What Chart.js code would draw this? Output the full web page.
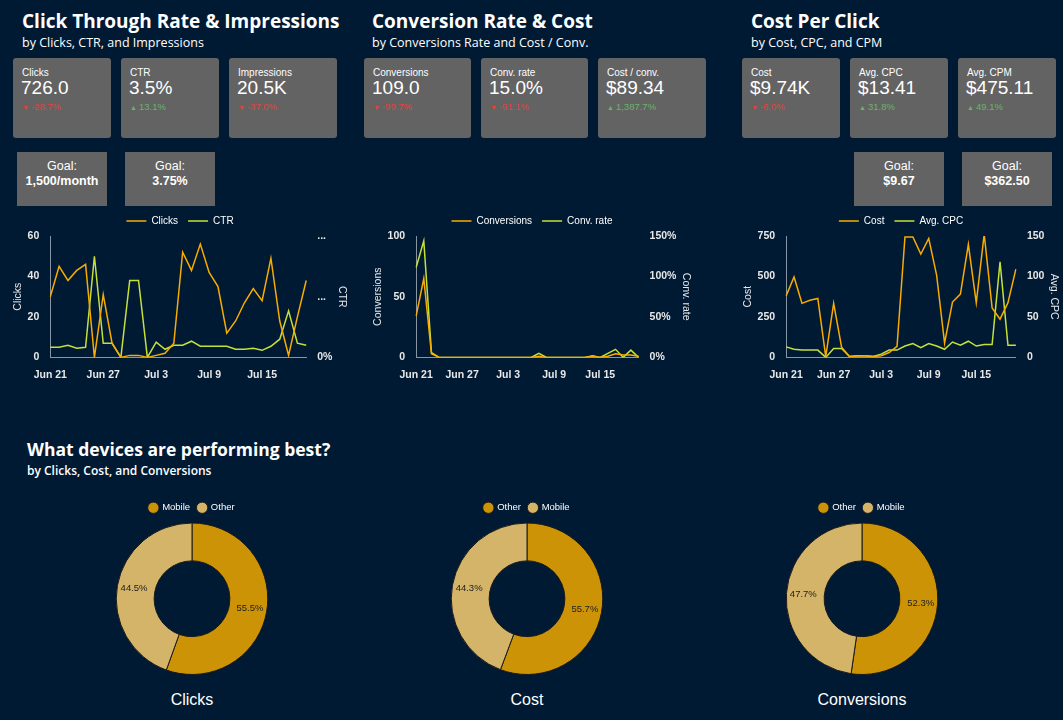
<!doctype html>
<html lang="en">
<head>
<meta charset="UTF-8" />
<title>Ads Dashboard</title>
<script src="https://cdn.jsdelivr.net/npm/chart.js"></script>
<style>
  body { margin: 0; width: 1063px; height: 720px; background: #011a33; font-family: Arial, "Liberation Sans", sans-serif; color: #fff; position: relative; overflow: hidden; }
  h2 { position: absolute; margin: 0; font-family: "Open Sans", sans-serif; font-weight: 700; font-size: 19px; }
  .sub { position: absolute; font-family: "Open Sans", sans-serif; font-size: 12.5px; }
  .card { position: absolute; top: 58px; height: 80px; background: #636363; border-radius: 3px; }
  .card .l { position: absolute; left: 9px; top: 9px; font-size: 10px; }
  .card .v { position: absolute; left: 8px; top: 19px; font-size: 19px; }
  .card .d { position: absolute; left: 9px; top: 43px; font-size: 9.5px; }
  .card .d span { font-size: 7px; margin-right: 2px; }
  .dn { color: #e0443c; } .up { color: #6ab36a; }
  .goal { position: absolute; top: 152px; width: 90px; height: 54px; background: #636363; text-align: center; font-size: 12.5px; line-height: 15px; padding-top: 7px; box-sizing: border-box; }
  .goal b { display: block; }
  .lbl { position: absolute; top: 691px; width: 200px; text-align: center; font-size: 16px; }
  canvas { position: absolute; }
</style>
</head>
<body>
<h2 style="left:22px;top:8px">Click Through Rate &amp; Impressions</h2>
<div class="sub" style="left:22px;top:34px">by Clicks, CTR, and Impressions</div>
<h2 style="left:372px;top:8px">Conversion Rate &amp; Cost</h2>
<div class="sub" style="left:372px;top:34px">by Conversions Rate and Cost / Conv.</div>
<h2 style="left:751px;top:8px">Cost Per Click</h2>
<div class="sub" style="left:751px;top:34px">by Cost, CPC, and CPM</div>

<div class="card" style="left:13px;width:98px"><div class="l">Clicks</div><div class="v">726.0</div><div class="d dn"><span>&#9660;</span>-28.7%</div></div>
<div class="card" style="left:121px;width:98px"><div class="l">CTR</div><div class="v">3.5%</div><div class="d up"><span>&#9650;</span>13.1%</div></div>
<div class="card" style="left:229px;width:108px"><div class="l">Impressions</div><div class="v">20.5K</div><div class="d dn"><span>&#9660;</span>-37.0%</div></div>
<div class="card" style="left:364px;width:107px"><div class="l">Conversions</div><div class="v">109.0</div><div class="d dn"><span>&#9660;</span>-99.7%</div></div>
<div class="card" style="left:481px;width:107px"><div class="l">Conv. rate</div><div class="v">15.0%</div><div class="d dn"><span>&#9660;</span>-91.1%</div></div>
<div class="card" style="left:598px;width:108px"><div class="l">Cost / conv.</div><div class="v">$89.34</div><div class="d up"><span>&#9650;</span>1,387.7%</div></div>
<div class="card" style="left:742px;width:98px"><div class="l">Cost</div><div class="v">$9.74K</div><div class="d dn"><span>&#9660;</span>-6.0%</div></div>
<div class="card" style="left:850px;width:98px"><div class="l">Avg. CPC</div><div class="v">$13.41</div><div class="d up"><span>&#9650;</span>31.8%</div></div>
<div class="card" style="left:958px;width:98px"><div class="l">Avg. CPM</div><div class="v">$475.11</div><div class="d up"><span>&#9650;</span>49.1%</div></div>

<div class="goal" style="left:17px">Goal:<b>1,500/month</b></div>
<div class="goal" style="left:125px">Goal:<b>3.75%</b></div>
<div class="goal" style="left:854px">Goal:<b>$9.67</b></div>
<div class="goal" style="left:962px">Goal:<b>$362.50</b></div>

<canvas id="c1" style="left:12px;top:206px;width:336px;height:178px"></canvas>
<canvas id="c2" style="left:372px;top:206px;width:320px;height:178px"></canvas>
<canvas id="c3" style="left:742px;top:206px;width:318px;height:178px"></canvas>

<h2 style="left:27px;top:437px;font-size:17.5px">What devices are performing best?</h2>
<div class="sub" style="left:27px;top:462px;font-size:12px;font-weight:600">by Clicks, Cost, and Conversions</div>

<canvas id="d1" style="left:92px;top:495px;width:200px;height:180px"></canvas>
<canvas id="d2" style="left:427px;top:495px;width:200px;height:180px"></canvas>
<canvas id="d3" style="left:762px;top:495px;width:200px;height:180px"></canvas>
<div class="lbl" style="left:92px">Clicks</div>
<div class="lbl" style="left:427px">Cost</div>
<div class="lbl" style="left:762px">Conversions</div>

<script>
const dates = ['Jun 21','Jun 22','Jun 23','Jun 24','Jun 25','Jun 26','Jun 27','Jun 28','Jun 29','Jun 30',
  'Jul 1','Jul 2','Jul 3','Jul 4','Jul 5','Jul 6','Jul 7','Jul 8','Jul 9','Jul 10',
  'Jul 11','Jul 12','Jul 13','Jul 14','Jul 15','Jul 16','Jul 17','Jul 18','Jul 19','Jul 20'];
const clicks = [30,45,38,43,46,0,31,7,0,1,1,0,1,2,7,52,43,56,42,35,12,18,27,34,28,49,18,1,20,38];
const ctr = [1,1,1.2,0.9,1,10,1.4,1.4,0,7.6,7.6,0,1.5,0.8,1.2,1.2,1.6,1.1,1.1,1.1,1.1,0.8,0.8,0.9,0.7,1.1,1.8,4.6,1.4,1.2];
const conversions = [34,65,3,0,0,0,0,0,0,0,0,0,0,0,0,0,1,0,0,0,0,0,0,1,0,1,3,2,2,1];
const convRate = [111,144,6,0,0,0,0,0,0,0,0,0,0,0,0,0,5,0,0,0,0,0,0,2,0,5,10,0,9,0];
const cost = [380,497,334,353,364,5,334,63,5,8,10,5,10,30,68,744,744,638,735,507,89,342,391,698,338,761,306,236,338,545];
const cpc = [13,10,9,9,9,0,11,11,1,2,2,1,4,9,9,14,17,12,17,14,10,19,15,20,14,16,16,118,15,15];

const deviceLabels1 = ['Mobile','Other'];
const clickShare = [55.5,44.5];
const deviceLabels2 = ['Other','Mobile'];
const costShare = [55.7,44.3];
const convShare = [52.3,47.7];

const ORANGE = '#f9ab00', LIME = '#c6e03a', TXT = '#e8e8e8';
const DARK = '#cc9306', LIGHT = '#d4b469';
Chart.defaults.font.family = 'Arial, "Liberation Sans", sans-serif';
Chart.defaults.color = TXT;

function lineChart(id, a, b, yL, yR, leftOpt, rightOpt) {
  new Chart(document.getElementById(id), {
    type: 'line',
    data: {
      labels: dates,
      datasets: [
        { label: a.label, data: a.data, borderColor: ORANGE, backgroundColor: ORANGE, yAxisID: 'y' },
        { label: b.label, data: b.data, borderColor: LIME, backgroundColor: LIME, yAxisID: 'y1' }
      ]
    },
    options: {
      responsive: false, animation: false,
      elements: { point: { radius: 0 }, line: { borderWidth: 1.5, tension: 0 } },
      plugins: {
        legend: { labels: { boxWidth: 20, boxHeight: 0, font: { size: 10 }, color: '#fff' } },
        tooltip: { enabled: false }
      },
      scales: {
        x: {
          grid: { display: false }, border: { color: '#8895a5' },
          ticks: { autoSkip: false, maxRotation: 0, font: { size: 10.5, weight: 'bold' },
            callback: (v, i) => i % 6 === 0 ? dates[i] : '' }
        },
        y: Object.assign({ position: 'left', min: 0, grid: { display: false }, border: { color: '#8895a5' },
          title: { display: true, text: yL, font: { size: 10.5 }, padding: 0 } }, leftOpt),
        y1: Object.assign({ position: 'right', min: 0, grid: { display: false }, border: { display: false },
          title: { display: true, text: yR, font: { size: 10.5 }, padding: 0 } }, rightOpt)
      }
    }
  });
}

const tf = { size: 10.5, weight: 'bold' };
lineChart('c1', { label: 'Clicks', data: clicks }, { label: 'CTR', data: ctr }, 'Clicks', 'CTR',
  { max: 60, ticks: { stepSize: 20, font: tf } },
  { max: 12, ticks: { stepSize: 6, font: tf, callback: v => v === 0 ? '0%' : '...' } });
lineChart('c2', { label: 'Conversions', data: conversions }, { label: 'Conv. rate', data: convRate }, 'Conversions', 'Conv. rate',
  { max: 100, ticks: { stepSize: 50, font: tf } },
  { max: 150, ticks: { stepSize: 50, font: tf, callback: v => v + '%' } });
lineChart('c3', { label: 'Cost', data: cost }, { label: 'Avg. CPC', data: cpc }, 'Cost', 'Avg. CPC',
  { max: 750, ticks: { stepSize: 250, font: tf } },
  { max: 150, ticks: { stepSize: 50, font: tf } });

const sliceLabels = {
  id: 'sliceLabels',
  afterDatasetsDraw(chart) {
    const ctx = chart.ctx;
    const meta = chart.getDatasetMeta(0);
    ctx.save();
    ctx.fillStyle = '#222';
    ctx.font = '9.5px Arial';
    ctx.textAlign = 'center';
    ctx.textBaseline = 'middle';
    meta.data.forEach((arc, i) => {
      const p = arc.getProps(['x', 'y', 'startAngle', 'endAngle', 'innerRadius', 'outerRadius']);
      const mid = (p.startAngle + p.endAngle) / 2;
      const r = (p.innerRadius + p.outerRadius) / 2 + 2;
      ctx.fillText(chart.data.datasets[0].data[i].toFixed(1) + '%', p.x + Math.cos(mid) * r, p.y + Math.sin(mid) * r);
    });
    ctx.restore();
  }
};

function donut(id, labels, data) {
  new Chart(document.getElementById(id), {
    type: 'doughnut',
    data: { labels, datasets: [{ data, backgroundColor: [DARK, LIGHT], borderColor: '#1a1a1a', borderWidth: 1 }] },
    options: {
      responsive: false, animation: false, cutout: '50%',
      plugins: {
        legend: { labels: { usePointStyle: true, pointStyle: 'circle', boxWidth: 8, boxHeight: 8, font: { size: 9.5 }, color: '#fff', padding: 8 } },
        tooltip: { enabled: false }
      }
    },
    plugins: [sliceLabels]
  });
}
donut('d1', deviceLabels1, clickShare);
donut('d2', deviceLabels2, costShare);
donut('d3', deviceLabels2, convShare);
</script>
</body>
</html>
